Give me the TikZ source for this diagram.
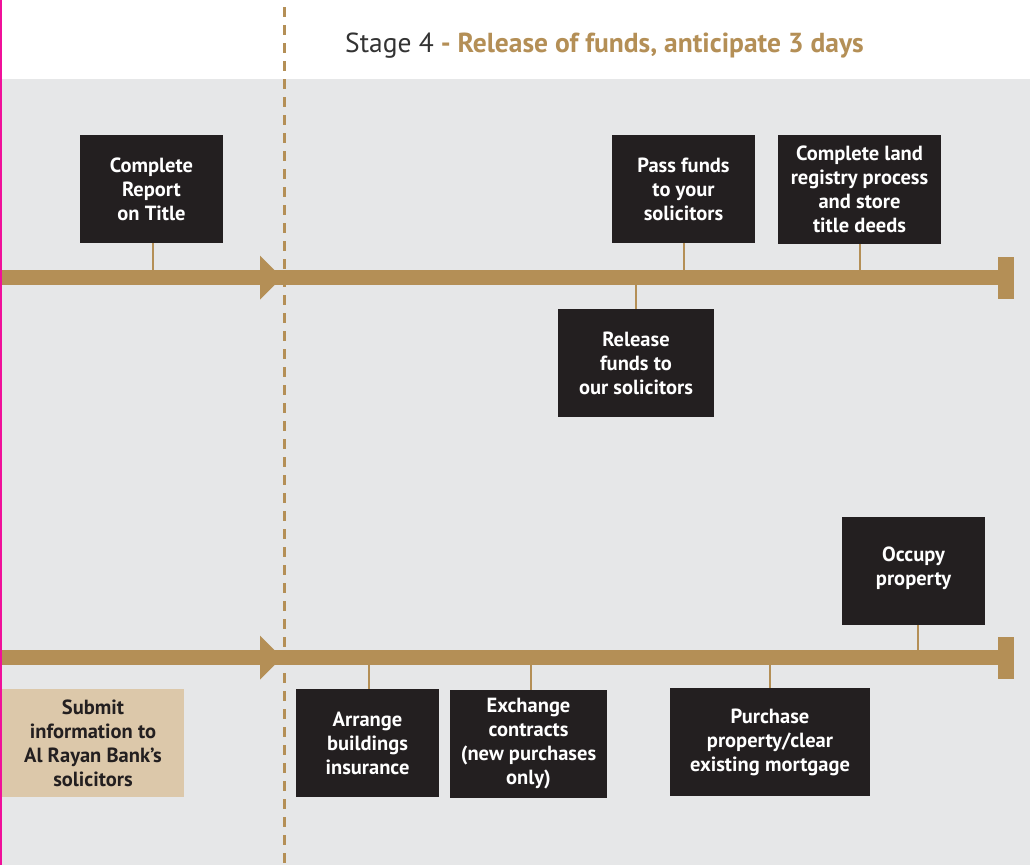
\documentclass[tikz,border=0pt]{standalone}
\usepackage{fontspec}
\setmainfont{PT Sans}
\definecolor{tan}{HTML}{B48F56}
\definecolor{bggray}{HTML}{E6E7E8}
\definecolor{darkbox}{HTML}{231F20}
\definecolor{lighttan}{HTML}{DCC8AA}
\definecolor{headgray}{HTML}{333333}
\definecolor{pinkedge}{HTML}{F0109A}
\tikzset{
  box/.style={fill=darkbox, text=white, font=\bfseries\fontsize{20.5}{24}\selectfont, align=center, inner sep=0pt, minimum width=143pt, minimum height=108pt},
  tanbox/.style={box, fill=lighttan, text=darkbox},
  conn/.style={draw=tan, line width=2pt},
  bar/.style={draw=tan, line width=15pt},
  tip/.style={fill=tan},
}
\begin{document}
\begin{tikzpicture}[x=1pt,y=-1pt]
\useasboundingbox (0,0) rectangle (1034,865);
\fill[white] (0,0) rectangle (1034,865);
\fill[bggray] (2,79) rectangle (1030,865);
\fill[pinkedge] (0,0) rectangle (1.6,865);
% header
\node[anchor=base west, inner sep=0pt, font=\fontsize{27.5}{32}\selectfont, text=headgray] (head) at (345,52) {Stage 4\textcolor{tan}{\bfseries\ - Release of funds, anticipate 3 days}};
% timelines
\coordinate (a1) at (2,277.5);
\coordinate (e1) at (998,277.5);
\coordinate (a2) at (2,657.5);
\coordinate (e2) at (998,657.5);
\draw[bar] (a1) -- (e1);
\draw[bar] (a2) -- (e2);
\fill[tan] (998,257) rectangle (1014,299);
\fill[tan] (998,637) rectangle (1014,679);
\fill[tip] (260,255.5) -- (282,277.5) -- (260,299.5) -- cycle;
\fill[tip] (260,635.5) -- (282,657.5) -- (260,679.5) -- cycle;
% dashed divider
\draw[tan, line width=3pt, dash pattern=on 10pt off 8pt] (284,7) -- (284,865);
% top boxes
\node[box] (b1) at (151.5,189) {Complete\\Report\\on Title};
\node[box] (b2) at (683.5,189) {Pass funds\\to your\\solicitors};
\node[box, minimum width=163pt, minimum height=109pt] (b3) at (859.5,189.5) {Complete land\\registry process\\and store\\title deeds};
\node[box, minimum width=156pt] (b4) at (636,363) {Release\\funds to\\our solicitors};
\node[box] (b5) at (913.5,571) {Occupy\\property\\[-14pt]};
% bottom boxes
\node[tanbox, minimum width=182pt] (b6) at (93,743) {Submit\\information to\\Al Rayan Bank’s\\solicitors};
\node[box] (b7) at (367.5,743) {Arrange\\buildings\\insurance};
\node[box, minimum width=157pt] (b8) at (528.5,744) {Exchange\\contracts\\(new purchases\\only)};
\node[box, minimum width=200pt] (b9) at (770,742) {Purchase\\property/clear\\existing mortgage};
% connectors
\draw[conn] ([xshift=1.5pt]b1.south) -- ([xshift=1.5pt]b1.south |- a1);
\draw[conn] (b2.south) -- (b2.south |- a1);
\draw[conn] (b3.south) -- (b3.south |- a1);
\draw[conn] (b4.north) -- (b4.north |- a1);
\draw[conn] ([xshift=4.5pt]b5.south) -- ([xshift=4.5pt]b5.south |- a2);
\draw[conn] ([xshift=1.5pt]b7.north) -- ([xshift=1.5pt]b7.north |- a2);
\draw[conn] ([xshift=2.5pt]b8.north) -- ([xshift=2.5pt]b8.north |- a2);
\draw[conn] (b9.north) -- (b9.north |- a2);
\end{tikzpicture}
\end{document}
